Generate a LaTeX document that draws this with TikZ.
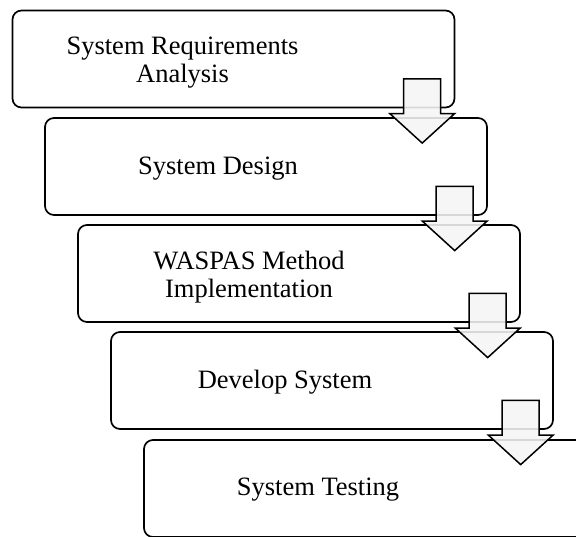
\documentclass[tikz,border=0pt]{standalone}
\usepackage{fontspec}
\setmainfont{Liberation Serif}
\begin{document}
\begin{tikzpicture}[x=1pt,y=-1pt,
  stepbox/.style={draw=black, line width=1.7pt, rounded corners=9pt, fill=white,
    minimum width=442pt, minimum height=97pt, inner sep=0pt, outer sep=0pt},
  steptext/.style={align=center, font=\fontsize{26.5}{28.5}\selectfont, inner sep=0pt},
  flowarrow/.pic={
    \path[draw=black, line width=1.5pt, line join=miter, fill=black!4, fill opacity=0.88]
      (-18.5,0) -- (18.5,0) -- (18.5,34.7) -- (32.5,34.7) -- (0,64.3)
      -- (-32.5,34.7) -- (-18.5,34.7) -- cycle;
  }]
\useasboundingbox (0,0) rectangle (576,536);
\begin{scope}
\clip (0,0) rectangle (576,536);
% the five process steps, each shifted right and down
\node[stepbox] (s1) at (233.5,59) {};
\node[stepbox] (s2) at (266,166.5) {};
\node[stepbox] (s3) at (299,273.5) {};
\node[stepbox] (s4) at (332,380.5) {};
\node[stepbox] (s5) at (365,488.5) {};
% labels sit left of the box centre, clear of the arrows
\node[steptext] (t1) at ([xshift=-51pt,yshift=-3.5pt]s1.center) {System Requirements\\Analysis};
\node[steptext] (t2) at ([xshift=-48pt,yshift=-2pt]s2.center) {System Design};
\node[steptext] (t3) at ([xshift=-50pt,yshift=-3.5pt]s3.center) {WASPAS Method\\Implementation};
\node[steptext] (t4) at ([xshift=-47pt,yshift=-1.5pt]s4.center) {Develop System};
\node[steptext] (t5) at ([xshift=-47pt,yshift=-1pt]s5.center) {System Testing};
% block arrows from each step into the next
\pic at ([xshift=-32.3pt,yshift=28.7pt]s1.south east) {flowarrow};
\pic at ([xshift=-32.3pt,yshift=28.7pt]s2.south east) {flowarrow};
\pic at ([xshift=-32.3pt,yshift=28.7pt]s3.south east) {flowarrow};
\pic at ([xshift=-32.3pt,yshift=28.7pt]s4.south east) {flowarrow};
\end{scope}
\end{tikzpicture}
\end{document}
